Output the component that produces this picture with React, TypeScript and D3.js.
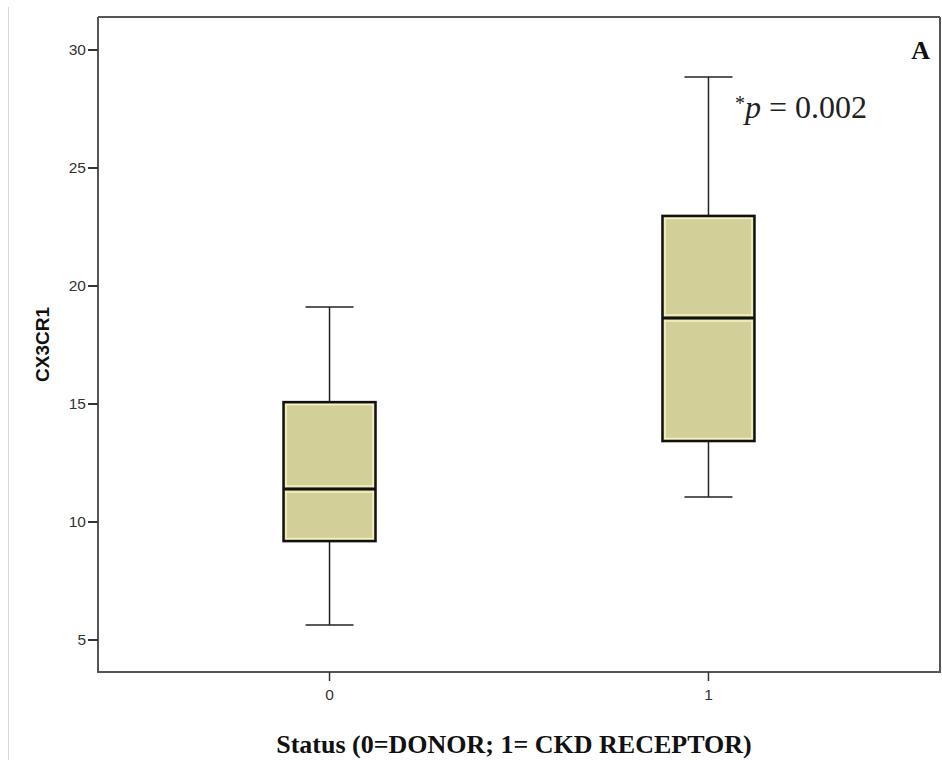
import React from "react";
import * as d3 from "d3";

const categories = ["0", "1"];
const whiskerLow = [5.64, 11.06];
const q1 = [9.19, 13.43];
const medians = [11.4, 18.64];
const q3 = [15.08, 22.97];
const whiskerHigh = [19.11, 28.86];
const yTicks = [5, 10, 15, 20, 25, 30];

const W = 942;
const H = 760;
const left = 98;
const right = 940;
const top = 17;
const bottom = 672;

export default function App() {
  const x = d3.scalePoint<string>().domain(categories).range([left, right]).padding(0.611);
  const y = d3.scaleLinear().domain([5, 30]).range([640, 50]);
  const boxW = 92;
  const capW = 48;
  const fill = "#d3cf98";
  const hi = "#f7f2c4";

  return (
    <svg width={W} height={H} style={{ position: "absolute", left: 0, top: 0, background: "#fff" }}>
      <line x1={8.5} x2={8.5} y1={7} y2={H} stroke="#d8d8d8" strokeWidth={1} />
      {/* frame */}
      <line x1={left} x2={right} y1={top} y2={top} stroke="#555" strokeWidth={2} />
      <line x1={right} x2={right} y1={top} y2={bottom} stroke="#555" strokeWidth={2} />
      <line x1={left} x2={left} y1={top} y2={bottom + 1} stroke="#555" strokeWidth={2} />
      <line x1={left - 1} x2={right + 1} y1={bottom} y2={bottom} stroke="#555" strokeWidth={2} />
      {/* y ticks */}
      {yTicks.map((t) => (
        <g key={t}>
          <line x1={left - 10} x2={left} y1={y(t)} y2={y(t)} stroke="#333" strokeWidth={2} />
          <text x={left - 12} y={y(t)} dy="0.35em" textAnchor="end" fontFamily="Liberation Sans, Arial, sans-serif" fontSize={15.5} fill="#333">
            {t}
          </text>
        </g>
      ))}
      {/* x ticks */}
      {categories.map((c) => (
        <g key={c}>
          <line x1={x(c)} x2={x(c)} y1={bottom} y2={bottom + 9} stroke="#333" strokeWidth={1.5} />
          <text x={x(c)} y={bottom + 28} textAnchor="middle" fontFamily="Liberation Sans, Arial, sans-serif" fontSize={15.5} fill="#333">
            {c}
          </text>
        </g>
      ))}
      {/* boxes */}
      {categories.map((c, i) => {
        const cx = x(c) as number;
        return (
          <g key={"b" + c}>
            <line x1={cx} x2={cx} y1={y(whiskerHigh[i])} y2={y(q3[i])} stroke="#222" strokeWidth={1.5} />
            <line x1={cx} x2={cx} y1={y(q1[i])} y2={y(whiskerLow[i])} stroke="#222" strokeWidth={1.5} />
            <line x1={cx - capW / 2} x2={cx + capW / 2} y1={y(whiskerHigh[i])} y2={y(whiskerHigh[i])} stroke="#222" strokeWidth={1.5} />
            <line x1={cx - capW / 2} x2={cx + capW / 2} y1={y(whiskerLow[i])} y2={y(whiskerLow[i])} stroke="#222" strokeWidth={1.5} />
            <rect x={cx - boxW / 2} y={y(q3[i])} width={boxW} height={y(q1[i]) - y(q3[i])} fill={fill} />
            <rect x={cx - boxW / 2 + 2.5} y={y(q3[i]) + 2.5} width={boxW - 5} height={y(q1[i]) - y(q3[i]) - 5} fill="none" stroke={hi} strokeWidth={1.5} />
            <line x1={cx - boxW / 2 + 2} x2={cx + boxW / 2 - 2} y1={y(medians[i]) - 3} y2={y(medians[i]) - 3} stroke={hi} strokeWidth={1.5} />
            <line x1={cx - boxW / 2 + 2} x2={cx + boxW / 2 - 2} y1={y(medians[i]) + 3} y2={y(medians[i]) + 3} stroke={hi} strokeWidth={1.5} />
            <line x1={cx - boxW / 2} x2={cx + boxW / 2} y1={y(medians[i])} y2={y(medians[i])} stroke="#111" strokeWidth={3} />
            <rect x={cx - boxW / 2} y={y(q3[i])} width={boxW} height={y(q1[i]) - y(q3[i])} fill="none" stroke="#111" strokeWidth={2.5} />
          </g>
        );
      })}
      {/* annotations */}
      <text x={930} y={59} textAnchor="end" fontFamily="Liberation Serif, serif" fontWeight="bold" fontSize={26} fill="#111">
        A
      </text>
      <text x={735} y={118} fontFamily="Liberation Serif, serif" fontSize={32} fill="#222">
        <tspan fontSize={20} dy={-8}>*</tspan>
        <tspan fontStyle="italic" dy={8}>p</tspan>
        <tspan> = 0.002</tspan>
      </text>
      <text transform={`translate(49,${(top + bottom) / 2}) rotate(-90)`} textAnchor="middle" fontFamily="Liberation Sans, Arial, sans-serif" fontWeight="bold" fontSize={19} fill="#111">
        CX3CR1
      </text>
      <text x={514} y={753} textAnchor="middle" fontFamily="Liberation Serif, serif" fontWeight="bold" fontSize={26} fill="#111">
        Status (0=DONOR; 1= CKD RECEPTOR)
      </text>
    </svg>
  );
}
